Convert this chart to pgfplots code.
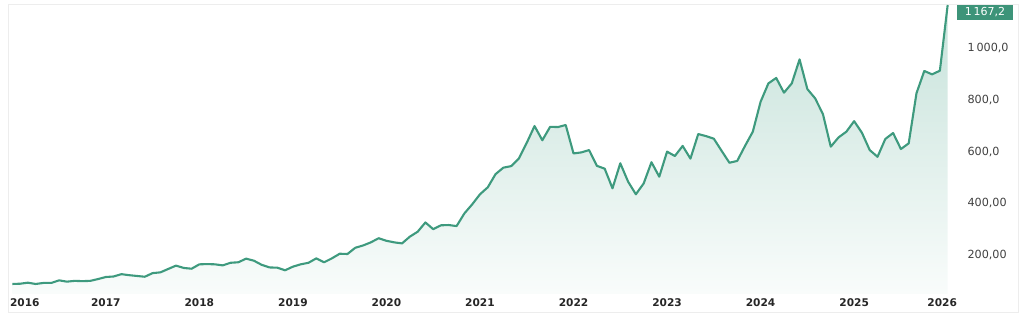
\documentclass[border=0pt]{standalone}
\usepackage{pgfplots}
\pgfplotsset{compat=1.18}
\usepackage{pgfplotstable}
\usepackage{fontspec}
\setmainfont{DejaVu Sans}
\definecolor{lineg}{HTML}{3E9A7E}
\definecolor{badge}{HTML}{3D9479}
\definecolor{filltop}{HTML}{C6E2DA}
\definecolor{fillbot}{HTML}{F9FCFB}
\definecolor{framec}{HTML}{EDEDED}
\pgfplotstableread{
m v
0 88
1 89
2 93
3 88
4 92
5 92
6 102
7 97
8 100
9 99
10 100
11 107
12 115
13 117
14 126
15 122
16 119
17 116
18 130
19 133
20 146
21 159
22 150
23 147
24 164
25 165
26 164
27 160
28 170
29 172
30 186
31 178
32 162
33 152
34 151
35 141
36 155
37 164
38 170
39 187
40 172
41 187
42 205
43 204
44 228
45 237
46 249
47 265
48 255
49 249
50 245
51 271
52 290
53 326
54 300
55 315
56 316
57 312
58 361
59 396
60 435
61 462
62 513
63 538
64 544
65 574
66 634
67 699
68 644
69 696
70 695
71 703
72 593
73 597
74 606
75 545
76 534
77 458
78 555
79 484
80 435
81 477
82 559
83 503
84 600
85 583
86 622
87 573
88 668
89 660
90 650
91 603
92 557
93 564
94 622
95 677
96 793
97 864
98 885
99 828
100 864
101 957
102 842
103 806
104 745
105 619
106 655
107 677
108 718
109 673
110 606
111 580
112 649
113 672
114 610
115 632
116 826
117 912
118 899
119 913
120 1167.2
}\data
\begin{document}
\begin{tikzpicture}[x=1pt,y=1pt]
\path (0,0) rectangle (1024,318);
\draw[framec, line width=0.8pt] (8,314) -- (8,6) -- (1018,6) -- (1018,314);
\draw[framec, line width=0.8pt] (8,314) -- (1018,314);
\begin{axis}[
  at={(8pt,24.2pt)}, anchor=south west,
  scale only axis, width=942pt, height=290.8pt,
  xmin=-0.55, xmax=120.3, ymin=50, ymax=1175,
  axis line style={draw=none},
  major tick length=0pt,
  xtick={1.6,12,24,36,48,60,72,84,96,108,119.3},
  xticklabels={2016,2017,2018,2019,2020,2021,2022,2023,2024,2025,2026},
  xticklabel style={font=\fontsize{10.6}{12}\selectfont\bfseries, text=black!85, yshift=-1pt},
  ytick={200,400,600,800,1000},
  yticklabels={{200,00},{400,00},{600,0},{800,0},{1\,000,0}},
  yticklabel pos=right,
  yticklabel style={font=\fontsize{11.2}{13}\selectfont, text=black!75, anchor=west, xshift=14pt},
]
\addplot[draw=none, top color=filltop, bottom color=fillbot] table[x=m,y=v]{\data} \closedcycle;
\addplot[lineg, line width=2.1pt, line join=round, mark=none] table[x=m,y=v]{\data};
\end{axis}
\node[fill=badge, text=white, minimum width=56pt, minimum height=15pt, inner sep=0pt, font=\fontsize{11}{12}\selectfont] at (985,305.5) {1\,167,2};
\end{tikzpicture}
\end{document}
